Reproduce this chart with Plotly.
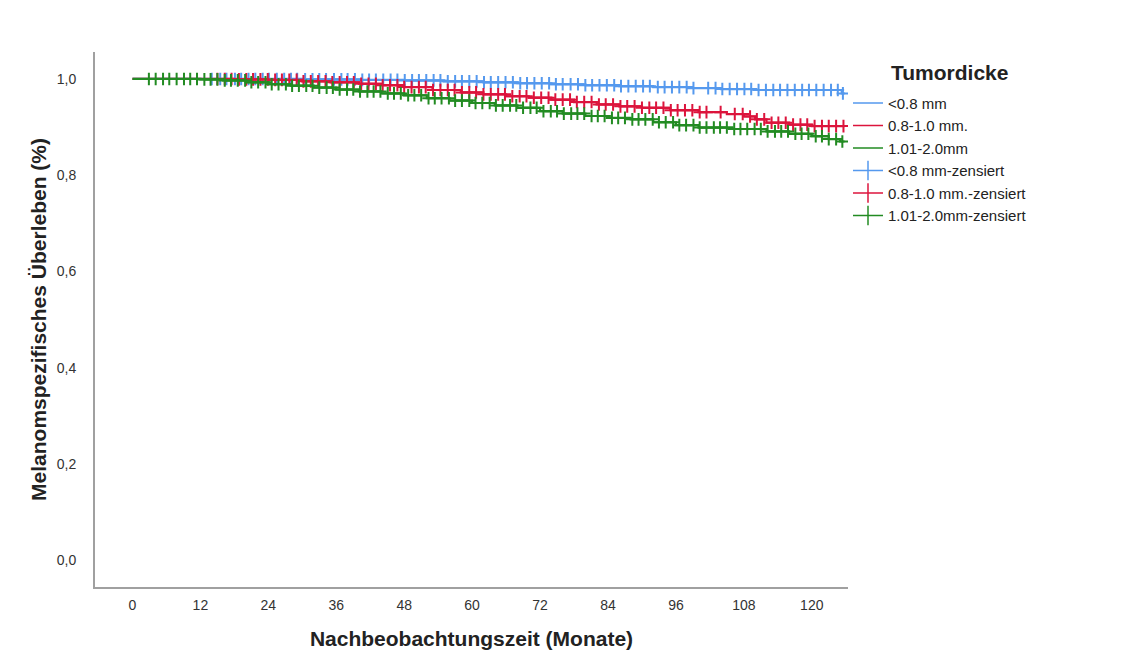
import numpy as np
import plotly.graph_objects as go

# ---------------- data ----------------
group_names = ["<0.8 mm", "0.8-1.0 mm.", "1.01-2.0mm"]
group_colors = ["#5599EE", "#DC143C", "#228B22"]

# Kaplan-Meier step points (time in months, survival)
blue_t = [0, 30, 40, 48, 55, 62, 68, 74, 80, 86, 92, 98, 104, 110, 125.3]
blue_s = [1.0, 0.999, 0.998, 0.997, 0.995, 0.993, 0.991, 0.989, 0.987, 0.985, 0.983, 0.981, 0.979, 0.977, 0.970]

red_t = [0, 18, 24, 30, 35, 40, 44, 48, 53, 58, 62, 66, 70, 74, 78, 82, 86, 90, 95, 100, 105, 108, 110, 112, 116, 120]
red_s = [1.0, 0.999, 0.998, 0.995, 0.993, 0.990, 0.987, 0.983, 0.977, 0.972, 0.968, 0.964, 0.961, 0.957,
         0.952, 0.947, 0.943, 0.940, 0.935, 0.931, 0.927, 0.922, 0.916, 0.909, 0.905, 0.902]

green_t = [0, 12, 16, 20, 24, 28, 32, 36, 40, 44, 48, 52, 56, 60, 64, 68, 72, 76, 80, 84, 88, 92, 96, 100,
           106, 112, 116, 120, 123, 125]
green_s = [1.0, 0.999, 0.997, 0.993, 0.989, 0.986, 0.982, 0.978, 0.974, 0.970, 0.966, 0.960, 0.955, 0.950,
           0.945, 0.940, 0.933, 0.928, 0.923, 0.919, 0.916, 0.910, 0.904, 0.899, 0.896, 0.891, 0.886, 0.881,
           0.875, 0.870]

end_time = 125.8

# censored observation times (months)
blue_c = [14, 15.5, 16.6, 18.1, 19.2, 20.5, 21.7, 23, 24.1, 25.5, 26.8, 28, 29.1, 30.5, 31.8, 33, 34.2, 35.6,
          36.9, 38, 39.3, 40.6, 41.8, 43, 44.3, 45.6, 46.8, 48.1, 49.4, 50.6, 51.9, 53.2, 54.4, 55.7, 57,
          58.2, 59.5, 60.8, 62.1, 63.3, 64.6, 65.9, 67.2, 68.5, 69.7, 71, 72.3, 73.6, 74.8, 76, 77.4, 78.7,
          80, 81.2, 82.5, 83.8, 85.1, 86.3, 87.6, 88.9, 90.2, 91.4, 92.8, 94, 95.3, 96.6, 97.9, 99.1, 101.7,
          103, 104.2, 105.5, 106.8, 108.1, 109.3, 110.6, 111.9, 113.2, 114.4, 115.7, 117, 118.3, 119.5,
          120.8, 122.1, 123.4, 124.6, 125.5]
red_c = [15, 16.3, 17.5, 18.8, 20.1, 21.3, 22.6, 23.9, 25.2, 26.4, 27.7, 29, 30.2, 31.5, 32.8, 34.1, 35.3,
         36.6, 37.9, 39.1, 40.4, 41.7, 43, 44.2, 45.5, 46.8, 48, 49.3, 50.6, 51.8, 53.1, 54.4, 55.7, 56.9,
         58.2, 59.5, 60.7, 62, 63.3, 64.6, 65.8, 67.1, 68.4, 69.6, 70.9, 72.2, 73.5, 74.7, 76, 77.3, 78.5,
         79.8, 81.1, 82.4, 83.6, 84.9, 86.2, 87.4, 88.7, 90, 91.3, 92.5, 93.8, 95.1, 96.3, 97.6, 98.9,
         100.2, 101.4, 103.9, 106.4, 107.8, 109.1, 110.3, 111.6, 112.9, 114.1, 115.4, 116.7, 118, 119.2,
         120.5, 121.8, 123, 124.3, 125.6]
green_c = [2.9, 4.1, 5.4, 6.5, 7.8, 9.1, 10.2, 11.4, 12.7, 13.8, 15, 16.3, 17.4, 18.6, 19.9, 21, 22.2, 23.5,
           24.6, 25.8, 27.1, 28.2, 29.4, 30.7, 31.8, 33, 34.3, 35.4, 36.6, 37.9, 39, 40.2, 41.5, 42.6, 43.8,
           45.1, 46.2, 47.4, 48.7, 49.8, 51, 52.3, 53.4, 54.6, 55.9, 57, 58.2, 59.5, 60.6, 61.8, 63.1, 64.2,
           65.4, 66.7, 67.8, 69, 70.3, 71.4, 72.6, 73.9, 75, 76.2, 77.5, 78.6, 79.8, 81.1, 82.2, 83.4, 84.7,
           85.8, 87, 88.3, 89.4, 90.6, 91.9, 93, 94.2, 95.5, 96.6, 97.8, 99.1, 100.2, 101.4, 102.7, 103.8,
           105, 106.3, 107.4, 108.6, 109.9, 111, 112.2, 113.5, 114.6, 115.8, 117.1, 118.2, 119.4, 120.7,
           121.8, 123, 124.3, 125.4]

x_ticks = [0, 12, 24, 36, 48, 60, 72, 84, 96, 108, 120]
y_ticks = [0.0, 0.2, 0.4, 0.6, 0.8, 1.0]

series = [
    (blue_t, blue_s, blue_c),
    (red_t, red_s, red_c),
    (green_t, green_s, green_c),
]

# ---------------- figure ----------------
fig = go.Figure()


def surv_at(tt, ss, c):
    idx = np.searchsorted(np.array(tt), np.array(c), side="right") - 1
    return list(np.array(ss)[idx])


for (tt, ss, cc), color, name in zip(series, group_colors, group_names):
    fig.add_trace(go.Scatter(
        x=list(tt) + [end_time], y=list(ss) + [ss[-1]],
        mode="lines", line=dict(color=color, width=2.2, shape="hv"),
        showlegend=False, hoverinfo="skip"))
    fig.add_trace(go.Scatter(
        x=cc, y=surv_at(tt, ss, cc), mode="markers",
        marker=dict(symbol="cross-thin-open", size=9, color=color,
                    line=dict(color=color, width=2)),
        showlegend=False, hoverinfo="skip"))

# legend entries
for color, name in zip(group_colors, group_names):
    fig.add_trace(go.Scatter(x=[None], y=[None], mode="lines", name=name,
                             line=dict(color=color, width=1.5)))
for color, name in zip(group_colors, group_names):
    fig.add_trace(go.Scatter(x=[None], y=[None], mode="lines+markers", name=name + "-zensiert",
                             line=dict(color=color, width=1.5),
                             marker=dict(symbol="line-ns-open", size=14, color=color,
                                         line=dict(color=color, width=1.5))))

axis_font = dict(family="Liberation Sans, Arial, sans-serif", size=14, color="#333333")
title_font = dict(family="Liberation Sans, Arial, sans-serif", size=21, color="#222222")

fig.update_layout(
    width=1126, height=668,
    margin=dict(l=95, r=278, t=52, b=81),
    paper_bgcolor="white", plot_bgcolor="white",
    separators=",.",
    font=dict(family="Liberation Sans, Arial, sans-serif"),
    xaxis=dict(range=[-6.62, 126.4], tickvals=x_ticks, ticktext=[str(v) for v in x_ticks],
               showgrid=False, zeroline=False, showline=True, linecolor="#A0A0A0", linewidth=2,
               ticks="", tickfont=axis_font, ticklabelstandoff=4,
               title=dict(text="<b>Nachbeobachtungszeit (Monate)</b>", font=title_font, standoff=20)),
    yaxis=dict(range=[-0.056, 1.056], tickvals=y_ticks, tickformat=".1f",
               showgrid=False, zeroline=False, showline=True, linecolor="#A0A0A0", linewidth=2,
               ticks="", tickfont=axis_font, ticklabelstandoff=14,
               title=dict(text="<b>Melanomspezifisches Überleben (%)</b>", font=title_font, standoff=4)),
    legend=dict(x=1.0, xanchor="left", y=0.935, yanchor="top",
                font=dict(family="Liberation Sans, Arial, sans-serif", size=15, color="#222222"),
                bgcolor="rgba(0,0,0,0)", tracegroupgap=0, itemwidth=30),
)
fig.add_annotation(text="<b>Tumordicke</b>", xref="paper", yref="paper",
                   x=(889 - 95) / 753, y=(587 - 72) / 535, xanchor="left", yanchor="middle",
                   showarrow=False,
                   font=dict(family="Liberation Sans, Arial, sans-serif", size=21, color="#222222"))

fig.write_html("out.html")
